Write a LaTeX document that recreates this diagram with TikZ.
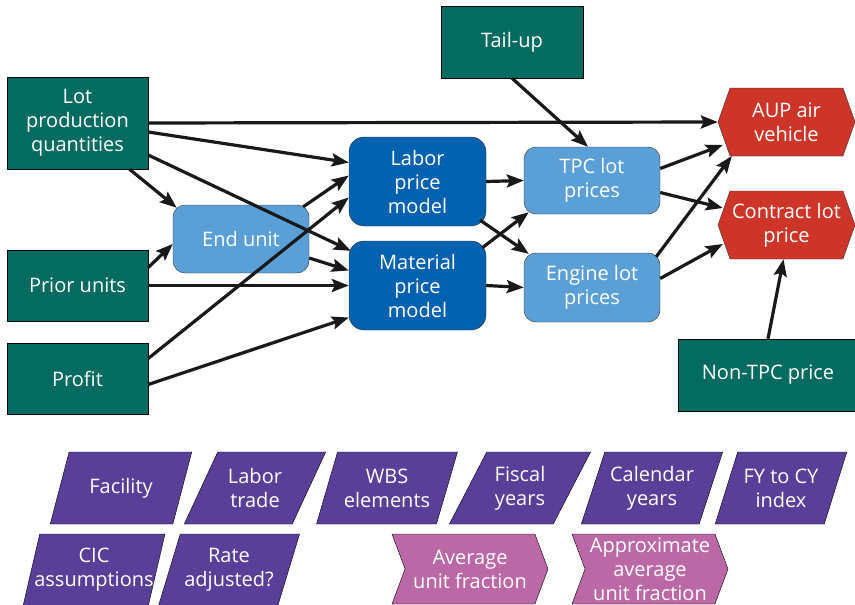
\documentclass[tikz,border=0pt]{standalone}
\usepackage{fontspec}
\setmainfont{Open Sans}
\usetikzlibrary{arrows.meta,shapes.geometric,shapes.symbols}

\definecolor{leaf}{HTML}{036B5F}
\definecolor{sky}{HTML}{5AA0D6}
\definecolor{navy}{HTML}{0061AF}
\definecolor{brick}{HTML}{CD3529}
\definecolor{grape}{HTML}{5A3F98}
\definecolor{orchid}{HTML}{BA68A6}

\begin{document}
\begin{tikzpicture}[x=1pt,y=-1pt,
  every node/.style={text=white,align=center,font=\fontsize{20}{24}\selectfont},
  input/.style={draw=black,fill=leaf,minimum width=141pt,minimum height=71pt},
  sub/.style={draw=black!80,fill=sky,rounded corners=12pt,minimum width=136pt,minimum height=68pt},
  model/.style={draw=black!80,fill=navy,rounded corners=15pt,minimum width=137pt,minimum height=89pt},
  result/.style={draw=black!80,fill=brick,signal,signal to=west and east,signal pointer angle=141,
    minimum width=137pt,minimum height=68pt,inner sep=1pt},
  factor/.style={draw=black,fill=grape,trapezium,trapezium left angle=72,trapezium right angle=108,
    trapezium stretches=true,minimum width=142pt,minimum height=72pt,inner ysep=1pt,inner xsep=-12pt},
  frac/.style={draw=black,fill=orchid,signal,signal from=west,signal to=east,signal pointer angle=139,
    minimum width=156pt,minimum height=70pt,inner sep=1pt},
  link/.style={draw=black!90,line width=3.2pt,-{Stealth[length=17pt,width=13pt,inset=3pt]}}
]
\useasboundingbox (0,0) rectangle (855,605);
\fill[white] (0,0) rectangle (855,605);

% inputs
\node[input,minimum height=92pt] (lot) at (77.5,123) {Lot\\production\\quantities};
\node[input] (prior) at (77.5,285.5) {Prior units};
\node[input] (profit) at (77.5,378.5) {Profit};
\node[input,minimum width=142pt,minimum height=72pt] (tail) at (512,42) {Tail-up};
\node[input,minimum width=179pt,minimum height=72pt] (nontpc) at (768,375) {Non-TPC price};

% models
\node[sub] (end) at (241,239) {End unit};
\node[model] (labor) at (417.5,181.5) {Labor\\price\\model};
\node[model] (material) at (417.5,285.5) {Material\\price\\model};
\node[sub,minimum height=67pt] (tpc) at (592,180.5) {TPC lot\\prices};
\node[sub,minimum height=69pt] (engine) at (592,287.5) {Engine lot\\prices};

% outputs
\node[result] (aup) at (786.5,122) {AUP air\\vehicle};
\node[result] (contract) at (786.5,225) {Contract lot\\price};

% connectors
\draw[link] (lot.east) -- (aup.west);
\draw[link] ([yshift=-9pt]lot.east) -- ([yshift=19pt]labor.west);
\draw[link] ([yshift=-32pt]lot.east) -- ([xshift=2pt,yshift=-10pt]material.north west);
\draw[link] ([xshift=52pt]lot.south) -- ([xshift=4pt,yshift=-3pt]end.north west);
\draw[link] ([yshift=18pt]prior.east) -- ([yshift=-5pt]end.west);
\draw[link] (prior.east) -- (material.west);
\draw[link] ([yshift=20pt]profit.east) -- ([yshift=-16pt]labor.west);
\draw[link] ([yshift=-6pt]profit.east) -- ([yshift=-32pt]material.west);
\draw[link] ([xshift=-6pt,yshift=-2pt]end.north east) -- ([yshift=6pt]labor.west);
\draw[link] ([yshift=-19pt]end.east) -- ([yshift=15pt]material.west);
\draw[link] (labor.east) -- (tpc.west);
\draw[link] ([xshift=-6pt,yshift=6pt]labor.south east) -- ([xshift=5pt,yshift=-1pt]engine.north west);
\draw[link] ([xshift=-4pt,yshift=-7pt]material.north east) -- ([xshift=5pt,yshift=2pt]tpc.south west);
\draw[link] (material.east) -- (engine.west);
\draw[link] (tail.south) -- ([xshift=-4pt]tpc.north);
\draw[link] ([yshift=12pt]tpc.east) -- ([xshift=5pt,yshift=-23pt]aup.west);
\draw[link] ([yshift=-12pt]tpc.east) -- ([xshift=5pt,yshift=17pt]contract.west);
\draw[link] ([xshift=-4pt,yshift=-4pt]engine.north east) -- ([xshift=14pt,yshift=-34pt]aup.west);
\draw[link] ([yshift=9pt]engine.east) -- ([xshift=5pt,yshift=-19pt]contract.west);
\draw[link] (nontpc.north) -- ([xshift=-3pt]contract.south);

% factors
\node[factor] (facility) at (121,488) {Facility};
\node[factor] (trade) at (255,488) {Labor\\trade};
\node[factor] (wbs) at (387,488) {WBS\\elements};
\node[factor] (fiscal) at (520,488) {Fiscal\\years};
\node[factor] (calendar) at (652,488) {Calendar\\years};
\node[factor,minimum width=132pt] (fycy) at (781,488) {FY to CY\\index};
\node[factor] (cic) at (94,570) {CIC\\assumptions};
\node[factor] (rate) at (229,570) {Rate\\adjusted?};
\node[frac] (avg) at (470,569) {Average\\unit fraction};
\node[frac] (approx) at (650,569) {Approximate\\average\\unit fraction};
\end{tikzpicture}
\end{document}
